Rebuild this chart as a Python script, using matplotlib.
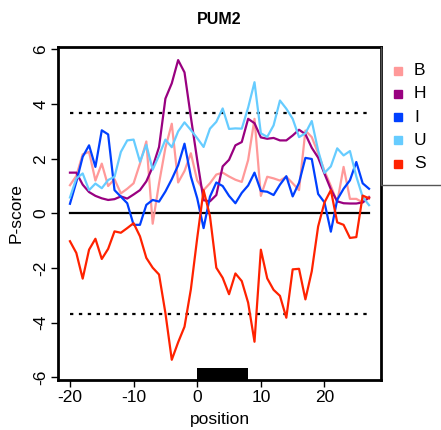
import matplotlib
matplotlib.use("Agg")
import matplotlib.pyplot as plt
from matplotlib.lines import Line2D
from matplotlib.patches import Rectangle
import numpy as np

plt.rcParams["font.family"] = ["Liberation Sans", "DejaVu Sans"]
plt.rcParams["axes.unicode_minus"] = False

position = np.arange(-20, 28)

score_B = [1.03, 1.37, 2.16, 2.25, 1.2, 1.82, 1.0, 1.25, 0.73, 0.9,
           1.1, 1.82, 2.63, -0.38, 1.1, 2.4, 3.28, 1.13, 1.55, 2.2,
           1.2, 0.85, 1.1, 1.42, 1.49, 1.35, 1.23, 1.15, 1.95, 3.46,
           0.64, 1.34, 1.28, 1.2, 1.34, 1.1, 0.85, 3.03, 2.79, 2.2,
           1.55, 1.0, 0.4, 1.7, 0.53, 0.53, 0.4, 0.61]
score_H = [1.49, 1.49, 1.05, 0.78, 0.64, 0.55, 0.49, 0.52, 0.62, 0.54,
           0.69, 0.85, 1.17, 1.7, 2.43, 4.2, 4.76, 5.61, 5.16, 3.52,
           1.95, 0.48, 0.44, 0.67, 1.72, 1.96, 2.49, 2.61, 3.46, 3.3,
           2.78, 2.73, 2.76, 2.67, 2.67, 2.85, 3.06, 2.9, 2.4, 2.04,
           1.45, 0.88, 0.44, 0.37, 0.36, 0.36, 0.4, 0.58]
score_I = [0.35, 1.15, 2.07, 2.49, 1.7, 3.04, 2.89, 0.85, 0.61, 0.37,
           -0.42, -0.42, 0.31, 0.49, 0.43, 0.8, 1.25, 1.76, 2.55, 1.35,
           0.55, -0.54, 0.61, 1.13, 1.0, 0.64, 0.37, 0.75, 1.02, 1.49,
           0.82, 0.79, 0.67, 1.05, 1.36, 0.62, 1.12, 2.03, 1.99, 0.71,
           0.4, -0.67, 0.5, 0.9, 1.21, 1.88, 1.1, 0.9]
score_U = [0.58, 1.28, 1.46, 0.85, 1.09, 0.92, 1.22, 1.34, 2.25, 2.67,
           2.7, 1.89, 2.51, 1.6, 2.12, 2.7, 2.42, 3.0, 3.33, 3.05,
           2.75, 2.43, 3.1, 3.35, 3.84, 3.09, 3.11, 3.1, 3.87, 4.8,
           2.93, 2.8, 3.22, 4.13, 3.83, 3.46, 2.79, 2.93, 3.38, 2.3,
           1.48, 1.72, 2.38, 2.12, 2.28, 1.35, 0.6, 0.3]
score_S = [-1.02, -1.45, -2.39, -1.33, -0.93, -1.67, -1.30, -0.66, -0.71, -0.54,
           -0.36, -0.84, -1.63, -1.99, -2.24, -3.65, -5.36, -4.72, -4.15, -2.78,
           -0.9, 0.85, -0.1, -1.99, -2.36, -2.96, -2.2, -2.48, -3.27, -4.7,
           -1.33, -2.38, -2.8, -3.02, -3.82, -2.05, -2.03, -3.15, -2.12, -0.48,
           0.4, 0.85, -0.33, -0.42, -0.9, -0.87, 0.65, 0.55]

labels = ["B", "H", "I", "U", "S"]
colors = ["#FF9999", "#990080", "#0040FF", "#66CCFF", "#FF2200"]
threshold = 3.67
site_start, site_end = 0, 8

W, H = 441, 430
fig = plt.figure(figsize=(W / 100, H / 100), dpi=100)
ax = fig.add_axes([58 / W, 1 - 380 / H, (381 - 58) / W, (380 - 46.7) / H])

ax.plot(position, np.zeros(len(position)), color="black", lw=1.6)
for y in (threshold, -threshold):
    ax.plot(position, np.full(len(position), y), color="black", lw=1.6,
            ls=(0, (1.5, 2.5)))

for vals, c in zip([score_B, score_H, score_I, score_U, score_S], colors):
    ax.plot(position, vals, color=c, lw=1.6)

ax.add_patch(Rectangle((site_start, -6.1), site_end - site_start, 0.43,
                       color="black", lw=0))

ax.set_xlim(-21.88, 28.88)
ax.set_ylim(-6.1, 6.1)
ax.set_xticks([-20, -10, 0, 10, 20])
ax.set_yticks([-6, -4, -2, 0, 2, 4, 6])
ax.tick_params(length=5, width=1, labelsize=12.5, pad=2)
for lbl in ax.get_yticklabels():
    lbl.set_rotation(90)
    lbl.set_va("center")
for s in ax.spines.values():
    s.set_linewidth(2)
ax.set_xlabel("position", fontsize=12.5, labelpad=5)
ax.set_ylabel("P-score", fontsize=12.5, labelpad=7)
ax.set_title("PUM2", fontsize=11.5, fontweight="bold", pad=16)

# legend box hanging off the right edge (left and bottom border only)
box_top, box_bottom, box_left = 1 - 47 / H, 1 - 185 / H, 381 / W
fig.add_artist(Line2D([box_left, box_left, 1.0],
                      [box_top, box_bottom, box_bottom],
                      transform=fig.transFigure, color="#555555", lw=1))
for i, (lab, c) in enumerate(zip(labels, colors)):
    yy = 1 - (70.7 + 23.2 * i) / H
    fig.add_artist(Line2D([398 / W], [yy], marker="s", ms=5.5, color=c,
                          ls="none", transform=fig.transFigure))
    fig.text(414 / W, yy, lab, fontsize=12.5, va="center", ha="left")

fig.savefig("out.png", dpi=100)
